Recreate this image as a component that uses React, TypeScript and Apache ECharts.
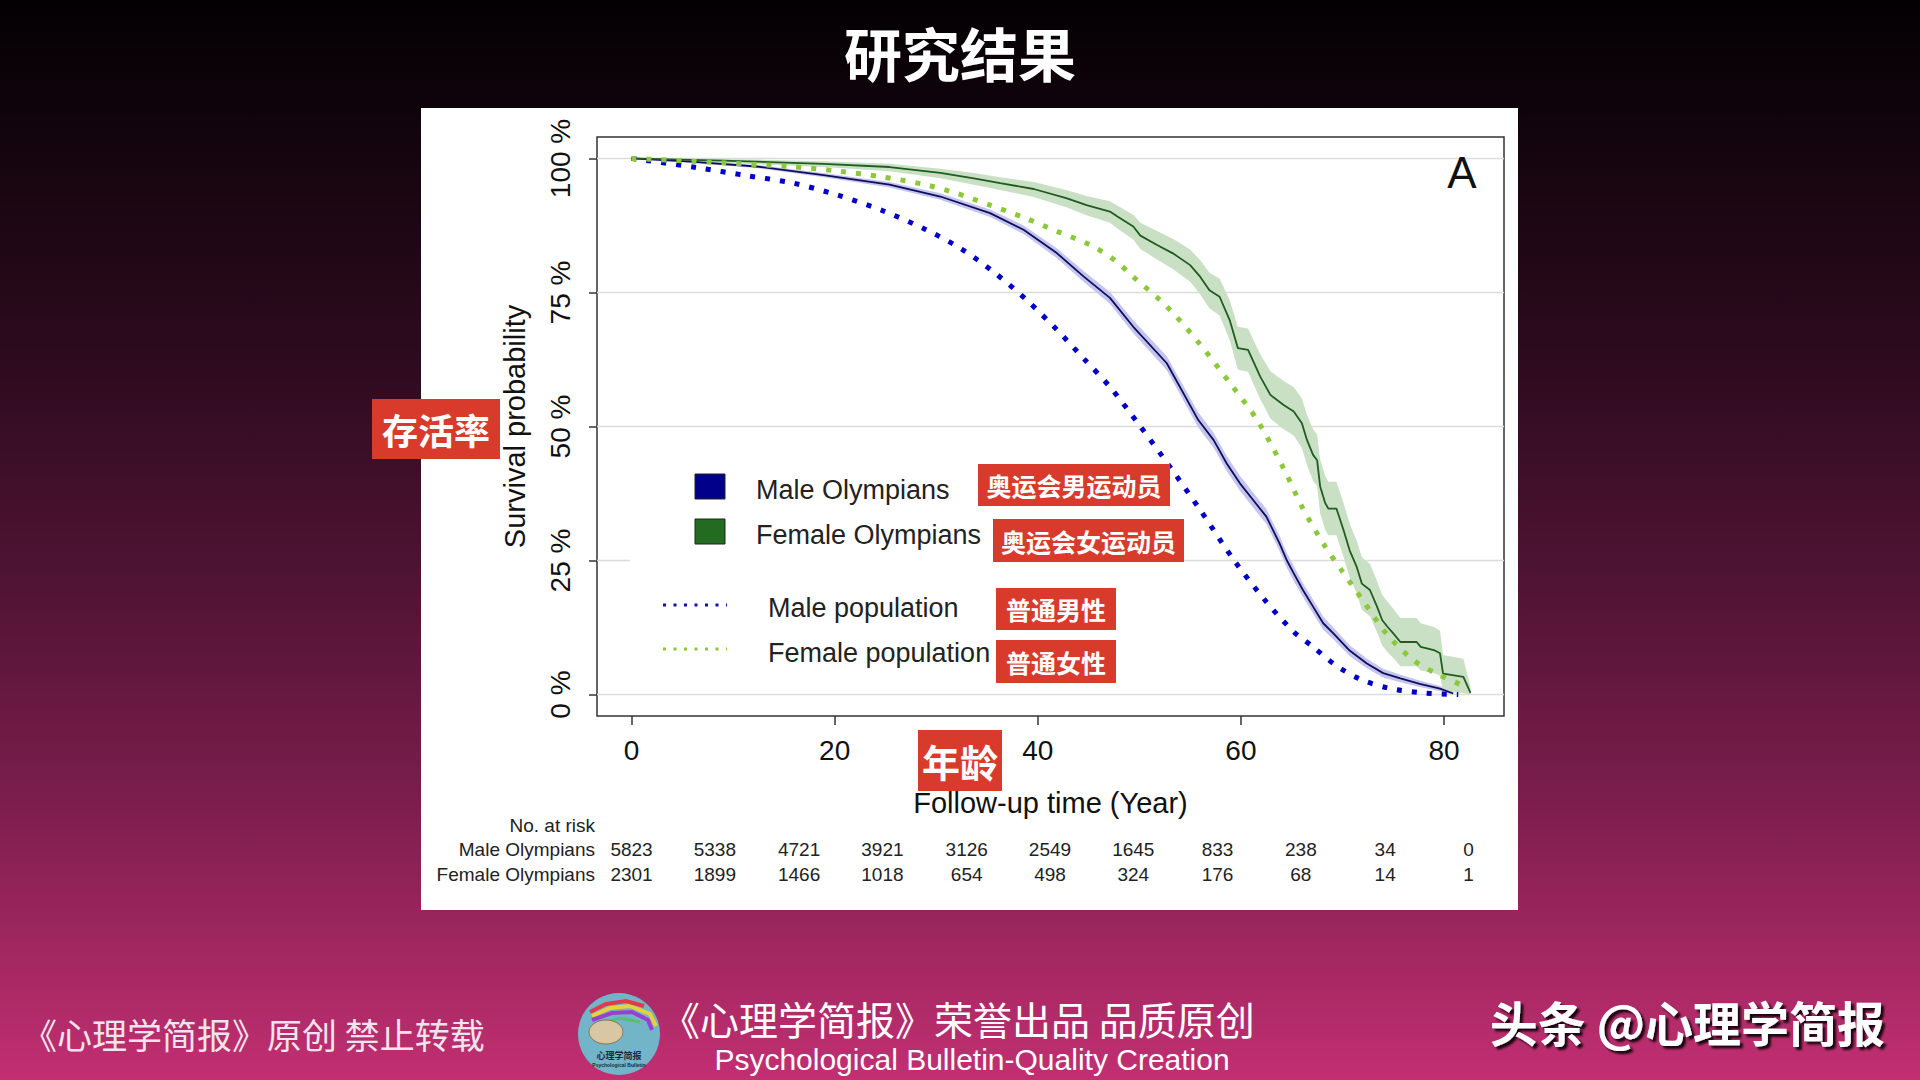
import React, { useEffect, useRef } from 'react';
import * as echarts from 'echarts';

// ---------- data ----------
const xTicks = [0, 20, 40, 60, 80];
const yTicks = [0, 25, 50, 75, 100];
const X_MIN = -3.4;
const X_MAX = 85.9;
const Y_MIN = -4;
const Y_MAX = 104;

// Male population (dotted blue)
const malePopT = [0, 6.4, 11.3, 15.9, 20.4, 24.8, 28.9, 32.5, 35.8, 38.9, 41.9, 44.6, 47.1, 50.1, 53.0, 56.0, 59.3, 62.5, 65.2, 67.1, 69.3, 71.7, 74.5, 78.0, 81.4];
const malePopS = [100, 98.3, 96.8, 95.4, 93.1, 90.2, 86.8, 83.1, 78.6, 73.6, 68.0, 62.5, 57.4, 50.0, 42.5, 34.4, 25.1, 17.3, 11.7, 8.9, 5.5, 2.9, 1.2, 0.3, 0];

// Female population (dotted light green)
const femalePopT = [0, 9.0, 15.6, 20.5, 24.5, 28.7, 32.0, 35.3, 38.6, 41.9, 45.1, 47.6, 49.4, 52.7, 55.9, 59.2, 61.6, 64.2, 66.1, 68.3, 69.9, 72.1, 74.3, 77.0, 79.6, 82.2];
const femalePopS = [100, 99.2, 98.5, 97.6, 96.6, 95.2, 93.5, 91.3, 89.0, 86.4, 83.9, 81.0, 77.9, 72.4, 65.5, 57.4, 51.2, 42.2, 34.7, 27.6, 23.2, 17.3, 11.4, 6.4, 3.6, 1.4];

// Male Olympians (navy KM curve) with CI
const maleOlyT = [0, 5.8, 12.3, 18.9, 25.4, 30.4, 35.3, 38.6, 41.9, 44.5, 47.1, 49.4, 52.7, 55.8, 57.3, 58.6, 59.9, 61.2, 62.5, 63.8, 64.5, 65.2, 66.1, 67.1, 68.1, 69.1, 70.7, 72.4, 74.0, 75.7, 77.6, 79.6, 80.9];
const maleOlyS = [100, 99.4, 98.5, 96.9, 95.1, 92.9, 89.8, 86.7, 82.3, 78.0, 74.0, 68.6, 61.8, 51.2, 47.5, 43.1, 39.4, 36.3, 33.2, 28.2, 25.1, 22.6, 19.5, 16.4, 13.3, 11.4, 8.2, 5.8, 4.0, 3.0, 2.0, 1.1, 0.2];
const maleOlyUpper = [100, 99.6, 98.8, 97.3, 95.6, 93.5, 90.5, 87.5, 83.2, 79.0, 75.1, 69.8, 63.1, 52.6, 48.9, 44.5, 40.8, 37.7, 34.6, 29.6, 26.5, 24.0, 20.8, 17.7, 14.5, 12.5, 9.2, 6.7, 4.8, 3.7, 2.6, 1.6, 0.5];
const maleOlyLower = [100, 99.2, 98.2, 96.5, 94.6, 92.3, 89.1, 85.9, 81.4, 77.0, 72.9, 67.4, 60.5, 49.8, 46.1, 41.7, 38.0, 34.9, 31.8, 26.8, 23.7, 21.2, 18.2, 15.1, 12.1, 10.3, 7.2, 4.9, 3.2, 2.3, 1.4, 0.6, 0];

// Female Olympians (dark green KM curve) with CI
const femaleOlyT = [0, 9.0, 18.9, 25.4, 30.4, 33.7, 36.3, 39.6, 42.8, 44.8, 47.1, 47.8, 49.4, 50.1, 51.7, 53.3, 55.0, 56.0, 56.9, 57.9, 58.9, 59.7, 60.7, 61.9, 62.9, 64.2, 65.2, 66.0, 66.5, 67.1, 67.5, 67.8, 68.3, 68.6, 69.4, 70.1, 70.7, 71.4, 71.9, 72.7, 73.4, 73.9, 74.4, 75.0, 75.7, 77.3, 77.7, 79.0, 79.6, 79.9, 81.9, 82.6];
const femaleOlyS = [100, 99.6, 99.0, 98.4, 97.3, 96.3, 95.4, 94.3, 92.6, 91.3, 90.1, 89.2, 87.3, 85.6, 83.9, 82.3, 80.1, 77.9, 75.4, 74.2, 69.8, 64.6, 64.3, 59.3, 55.9, 54.0, 52.8, 50.6, 47.5, 44.7, 43.7, 38.8, 35.7, 34.7, 34.7, 30.7, 26.9, 23.8, 20.7, 19.5, 16.4, 13.9, 12.7, 11.4, 9.8, 9.8, 8.9, 8.3, 7.7, 3.9, 3.3, 0.3];
const femaleOlyUpper = [100, 99.9, 99.5, 99.0, 98.1, 97.3, 96.5, 95.6, 94.1, 93.0, 92.0, 91.2, 89.5, 88.0, 86.5, 85.0, 83.0, 81.0, 78.7, 77.6, 73.5, 68.6, 68.3, 63.5, 60.3, 58.5, 57.3, 55.2, 52.2, 49.5, 48.5, 43.8, 40.7, 39.7, 39.7, 35.7, 31.9, 28.7, 25.6, 24.4, 21.2, 18.6, 17.4, 16.0, 14.3, 14.3, 13.3, 12.6, 11.9, 7.4, 6.7, 1.5];
const femaleOlyLower = [100, 99.2, 98.4, 97.6, 96.3, 95.1, 94.1, 92.8, 90.9, 89.4, 88.0, 87.0, 84.9, 83.1, 81.2, 79.4, 77.0, 74.6, 72.0, 70.7, 66.1, 60.6, 60.2, 55.1, 51.5, 49.5, 48.3, 46.0, 42.8, 39.9, 38.9, 33.8, 30.7, 29.7, 29.7, 25.7, 21.9, 18.9, 15.8, 14.6, 11.6, 9.2, 8.0, 6.8, 5.3, 5.3, 4.5, 4.0, 3.5, 0.6, 0.3, 0];

// Numbers at risk
const riskTimes = [0, 8.2, 16.5, 24.7, 33.0, 41.2, 49.4, 57.7, 65.9, 74.2, 82.4];
const riskMale = [5823, 5338, 4721, 3921, 3126, 2549, 1645, 833, 238, 34, 0];
const riskFemale = [2301, 1899, 1466, 1018, 654, 498, 324, 176, 68, 14, 1];

const legendNames = ['Male Olympians', 'Female Olympians', 'Male population', 'Female population'];

// ---------- styles ----------
const FONT = "'Liberation Sans', Arial, Helvetica, sans-serif";
const CJK = "'Noto Sans CJK SC', 'Noto Sans CJK JP', sans-serif";
const RED = '#d83a2b';
const NAVY = '#0e0e5c';
const DKGREEN = '#1f5c1f';
const BLUE_DOT = '#0000c8';
const GREEN_DOT = '#8cc83c';

function pairs(T: number[], S: number[]) {
  return T.map((t, i) => [t, S[i]]);
}

function bandSeries(name: string, T: number[], U: number[], L: number[], color: string) {
  return {
    type: 'custom',
    name,
    z: 3,
    silent: true,
    data: T.map((t, i) => [t, U[i], L[i]]),
    encode: { x: 0, y: [1, 2] },
    renderItem: (params: any, api: any) => {
      if (params.dataIndex !== 0) return null;
      const pts: number[][] = [];
      for (let i = 0; i < T.length; i++) pts.push(api.coord([T[i], U[i]]));
      for (let i = T.length - 1; i >= 0; i--) pts.push(api.coord([T[i], L[i]]));
      return { type: 'polygon', shape: { points: pts }, style: { fill: color } };
    },
  };
}

function redLabel(text: string, x: number, y: number, w: number, h: number, fs: number) {
  return {
    type: 'group',
    z: 20,
    children: [
      { type: 'rect', z: 20, shape: { x, y, width: w, height: h }, style: { fill: RED } },
      {
        type: 'text',
        z: 21,
        x: x + w / 2,
        y: y + h / 2,
        style: { text, fill: '#ffffff', font: `bold ${fs}px ${CJK}`, align: 'center', verticalAlign: 'middle' },
      },
    ],
  };
}

export default function App() {
  const ref = useRef<HTMLDivElement>(null);

  useEffect(() => {
    if (!ref.current) return;
    const chart = echarts.init(ref.current, null, { renderer: 'svg' });

    const option: any = {
      animation: false,
      backgroundColor: '#000000',
      grid: {
        left: 597,
        top: 137,
        width: 907,
        height: 579,
        show: true,
        borderColor: '#333333',
        borderWidth: 1.5,
        backgroundColor: 'transparent',
        z: 1,
      },
      xAxis: {
        type: 'value',
        min: X_MIN,
        max: X_MAX,
        splitLine: { show: false },
        axisLine: { show: false, onZero: false },
        axisTick: { show: true, customValues: xTicks, length: 9, lineStyle: { color: '#333', width: 1.5 } },
        axisLabel: { customValues: xTicks, fontSize: 28, color: '#111', margin: 20, fontFamily: FONT },
        name: 'Follow-up time (Year)',
        nameLocation: 'middle',
        nameGap: 72,
        nameTextStyle: { fontSize: 29, color: '#111', fontFamily: FONT },
      },
      yAxis: {
        type: 'value',
        min: Y_MIN,
        max: Y_MAX,
        splitLine: { show: false },
        axisLine: { show: false, onZero: false },
        axisTick: { show: true, customValues: yTicks, length: 8, lineStyle: { color: '#333', width: 1.5 } },
        axisLabel: {
          customValues: yTicks,
          rotate: 90,
          fontSize: 28,
          color: '#111',
          margin: 23,
          fontFamily: FONT,
          formatter: (v: number) => `${v} %`,
        },
        name: 'Survival probability',
        nameLocation: 'middle',
        nameRotate: 90,
        nameGap: 68,
        nameTextStyle: { fontSize: 29, color: '#111', fontFamily: FONT },
      },
      series: [
        {
          type: 'custom',
          name: 'grid lines',
          z: 1,
          silent: true,
          data: yTicks.map((v) => [0, v]),
          encode: { x: 0, y: 1 },
          renderItem: (params: any, api: any) => {
            const v = api.value(1);
            const a = api.coord([X_MIN, v]);
            const b = api.coord([X_MAX, v]);
            return {
              type: 'line',
              shape: { x1: a[0], y1: a[1], x2: b[0], y2: b[1] },
              style: { stroke: '#dcdcdc', lineWidth: 1.5 },
            };
          },
        },
        bandSeries('Male Olympians CI', maleOlyT, maleOlyUpper, maleOlyLower, '#c4c4ee'),
        bandSeries('Female Olympians CI', femaleOlyT, femaleOlyUpper, femaleOlyLower, '#c9e0c4'),
        {
          type: 'line',
          name: legendNames[0],
          z: 4,
          data: pairs(maleOlyT, maleOlyS),
          showSymbol: false,
          symbol: 'none',
          lineStyle: { color: NAVY, width: 1.8 },
        },
        {
          type: 'line',
          name: legendNames[1],
          z: 4,
          data: pairs(femaleOlyT, femaleOlyS),
          showSymbol: false,
          symbol: 'none',
          lineStyle: { color: DKGREEN, width: 1.8 },
        },
        {
          type: 'line',
          name: legendNames[2],
          z: 5,
          data: pairs(malePopT, malePopS),
          showSymbol: false,
          symbol: 'none',
          smooth: 0.3,
          lineStyle: { color: BLUE_DOT, width: 5, type: [5, 10] },
        },
        {
          type: 'line',
          name: legendNames[3],
          z: 5,
          data: pairs(femalePopT, femalePopS),
          showSymbol: false,
          symbol: 'none',
          smooth: 0.3,
          lineStyle: { color: GREEN_DOT, width: 5, type: [5, 10] },
        },
      ],
    };

    chart.setOption(option);

    const riskX = riskTimes.map((t) => chart.convertToPixel({ xAxisIndex: 0 }, t) as number);

    const graphics: any[] = [
      // page background
      {
        type: 'rect',
        z: -20,
        silent: true,
        shape: { x: 0, y: 0, width: 1920, height: 1080 },
        style: {
          fill: {
            type: 'linear',
            x: 0,
            y: 0,
            x2: 0,
            y2: 1,
            colorStops: [
              { offset: 0, color: '#030002' },
              { offset: 0.12, color: '#12040c' },
              { offset: 0.35, color: '#300b20' },
              { offset: 0.55, color: '#521435' },
              { offset: 0.75, color: '#7e1e4e' },
              { offset: 1, color: '#c22f72' },
            ],
          },
        },
      },
      // white figure panel
      { type: 'rect', z: -10, silent: true, shape: { x: 421, y: 108, width: 1097, height: 802 }, style: { fill: '#ffffff' } },
      // title
      {
        type: 'text',
        z: 10,
        x: 960,
        y: 52,
        style: { text: '研究结果', fill: '#ffffff', font: `bold 58px ${CJK}`, align: 'center', verticalAlign: 'middle' },
      },
      // panel label "A"
      {
        type: 'text',
        z: 10,
        x: 1462,
        y: 172,
        style: { text: 'A', fill: '#111111', font: `44px ${FONT}`, align: 'center', verticalAlign: 'middle' },
      },
      // legend background
      { type: 'rect', z: 2, silent: true, shape: { x: 630, y: 448, width: 372, height: 228 }, style: { fill: '#ffffff' } },
      { type: 'rect', z: 6, shape: { x: 695, y: 474, width: 30, height: 25 }, style: { fill: '#00008b', stroke: '#222', lineWidth: 1 } },
      { type: 'rect', z: 6, shape: { x: 695, y: 519, width: 30, height: 25 }, style: { fill: '#246b22', stroke: '#222', lineWidth: 1 } },
      { type: 'line', z: 6, shape: { x1: 663, y1: 605, x2: 727, y2: 605 }, style: { stroke: '#1010b0', lineWidth: 3, lineDash: [3, 7.5] } },
      { type: 'line', z: 6, shape: { x1: 663, y1: 649, x2: 727, y2: 649 }, style: { stroke: GREEN_DOT, lineWidth: 3, lineDash: [3, 7.5] } },
      { type: 'text', z: 6, x: 756, y: 490, style: { text: legendNames[0], fill: '#222', font: `27px ${FONT}`, verticalAlign: 'middle' } },
      { type: 'text', z: 6, x: 756, y: 535, style: { text: legendNames[1], fill: '#222', font: `27px ${FONT}`, verticalAlign: 'middle' } },
      { type: 'text', z: 6, x: 768, y: 608, style: { text: legendNames[2], fill: '#222', font: `27px ${FONT}`, verticalAlign: 'middle' } },
      { type: 'text', z: 6, x: 768, y: 653, style: { text: legendNames[3], fill: '#222', font: `27px ${FONT}`, verticalAlign: 'middle' } },
      // numbers at risk
      { type: 'text', z: 6, x: 595, y: 825, style: { text: 'No. at risk', fill: '#222', font: `19px ${FONT}`, align: 'right', verticalAlign: 'middle' } },
      { type: 'text', z: 6, x: 595, y: 849, style: { text: 'Male Olympians', fill: '#222', font: `19px ${FONT}`, align: 'right', verticalAlign: 'middle' } },
      { type: 'text', z: 6, x: 595, y: 874, style: { text: 'Female Olympians', fill: '#222', font: `19px ${FONT}`, align: 'right', verticalAlign: 'middle' } },
      ...riskX.map((x, i) => ({
        type: 'text',
        z: 6,
        x,
        y: 849,
        style: { text: String(riskMale[i]), fill: '#222', font: `19px ${FONT}`, align: 'center', verticalAlign: 'middle' },
      })),
      ...riskX.map((x, i) => ({
        type: 'text',
        z: 6,
        x,
        y: 874,
        style: { text: String(riskFemale[i]), fill: '#222', font: `19px ${FONT}`, align: 'center', verticalAlign: 'middle' },
      })),
      // red Chinese annotations
      redLabel('存活率', 372, 399, 128, 60, 36),
      redLabel('奥运会男运动员', 978, 464, 192, 42, 25),
      redLabel('奥运会女运动员', 993, 519, 191, 43, 25),
      redLabel('普通男性', 996, 588, 120, 42, 25),
      redLabel('普通女性', 996, 640, 120, 43, 25),
      redLabel('年龄', 918, 730, 84, 61, 38),
      // footer
      {
        type: 'text',
        z: 10,
        x: 22,
        y: 1033,
        style: { text: '《心理学简报》原创 禁止转载', fill: '#f2e4ec', font: `35px ${CJK}`, verticalAlign: 'middle' },
      },
      // logo
      {
        type: 'group',
        z: 10,
        children: [
          { type: 'circle', z: 10, shape: { cx: 619, cy: 1034, r: 41 }, style: { fill: '#72b5c9' } },
          { type: 'polyline', z: 11, shape: { points: [[592, 1016], [610, 1008], [630, 1006], [650, 1014], [656, 1026]] }, style: { stroke: '#e8d13a', lineWidth: 4, fill: 'none' } },
          { type: 'polyline', z: 11, shape: { points: [[592, 1020], [612, 1013], [632, 1012], [648, 1020], [652, 1030]] }, style: { stroke: '#9b3fd0', lineWidth: 4, fill: 'none' } },
          { type: 'polyline', z: 11, shape: { points: [[590, 1012], [606, 1004], [626, 1001], [644, 1006]] }, style: { stroke: '#e23a4a', lineWidth: 4, fill: 'none' } },
          { type: 'polyline', z: 11, shape: { points: [[600, 1024], [620, 1018], [640, 1022]] }, style: { stroke: '#58c06a', lineWidth: 3, fill: 'none' } },
          { type: 'ellipse', z: 12, shape: { cx: 606, cy: 1032, rx: 17, ry: 12 }, style: { fill: '#d9c7a3', stroke: '#8a7452', lineWidth: 1 } },
          { type: 'text', z: 12, x: 619, y: 1055, style: { text: '心理学简报', fill: '#1b2a3a', font: `bold 9px ${CJK}`, align: 'center', verticalAlign: 'middle' } },
          { type: 'text', z: 12, x: 619, y: 1065, style: { text: 'Psychological Bulletin', fill: '#1b2a3a', font: `bold 5px ${FONT}`, align: 'center', verticalAlign: 'middle' } },
        ],
      },
      {
        type: 'text',
        z: 10,
        x: 661,
        y: 1018,
        style: { text: '《心理学简报》荣誉出品 品质原创', fill: '#ffffff', font: `39px ${CJK}`, verticalAlign: 'middle' },
      },
      {
        type: 'text',
        z: 10,
        x: 972,
        y: 1059,
        style: { text: 'Psychological Bulletin-Quality Creation', fill: '#ffffff', font: `30px ${FONT}`, align: 'center', verticalAlign: 'middle' },
      },
      {
        type: 'text',
        z: 10,
        x: 1885,
        y: 1021,
        style: {
          text: '头条 @心理学简报',
          fill: '#ffffff',
          font: `bold 48px ${CJK}`,
          align: 'right',
          verticalAlign: 'middle',
          textShadowColor: 'rgba(0,0,0,0.85)',
          textShadowOffsetX: 3,
          textShadowOffsetY: 3,
          textShadowBlur: 2,
        },
      },
    ];

    chart.setOption({ graphic: graphics });

    return () => {
      chart.dispose();
    };
  }, []);

  return (
    <div
      ref={ref}
      style={{ position: 'absolute', left: 0, top: 0, width: 1920, height: 1080 }}
    />
  );
}
